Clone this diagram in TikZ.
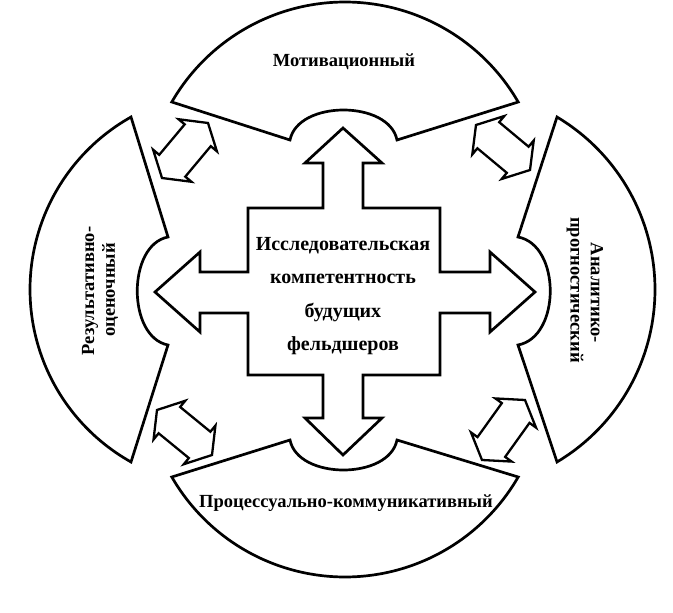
\documentclass[tikz,border=0pt]{standalone}
\usepackage{fontspec}
\setmainfont{Liberation Serif}
\usetikzlibrary{calc}
\newcommand{\dblarr}[2]{%
  \draw[smallarr] (#1)
    -- ($(#1)!16pt!(#2)!25pt!90:(#2)$)
    -- ($(#1)!16pt!(#2)!17pt!90:(#2)$)
    -- ($(#2)!16pt!(#1)!17pt!-90:(#1)$)
    -- ($(#2)!16pt!(#1)!25pt!-90:(#1)$)
    -- (#2)
    -- ($(#2)!16pt!(#1)!25pt!90:(#1)$)
    -- ($(#2)!16pt!(#1)!17pt!90:(#1)$)
    -- ($(#1)!16pt!(#2)!17pt!-90:(#2)$)
    -- ($(#1)!16pt!(#2)!25pt!-90:(#2)$)
    -- cycle;}
\begin{document}
\begin{tikzpicture}[x=1pt,y=-1pt,
  sect/.style={draw=black, line width=2.7pt, fill=white, line join=miter},
  crossshape/.style={draw=black, line width=2.7pt, fill=white, line join=miter},
  smallarr/.style={draw=black, line width=2.3pt, fill=white, line join=miter},
  lbl/.style={font=\bfseries\fontsize{18.5}{22}\selectfont, inner sep=0pt},
  ]
\useasboundingbox[fill=white] (0,0) rectangle (673,613);

% top sector
\draw[sect] plot[domain=210:330, samples=90] ({345+200*cos(\x)},{202+200*sin(\x)})
  -- (397,140) .. controls (389,100) and (298,100) .. (290,140) -- cycle;
% bottom sector
\draw[sect] plot[domain=30:150, samples=90] ({345+200*cos(\x)},{377+200*sin(\x)})
  -- (290,440) .. controls (298,480) and (389,480) .. (397,440) -- cycle;
% left sector
\draw[sect] plot[domain=119.3:240.7, samples=90] ({227.8+197.8*cos(\x)},{289.5+197.8*sin(\x)})
  -- (168,237) .. controls (127,245) and (127,337) .. (168,345) -- cycle;
% right sector
\draw[sect] plot[domain=-59.2:59.2, samples=90] ({454.2+200.8*cos(\x)},{289.5+200.8*sin(\x)})
  -- (518,345) .. controls (561,337) and (561,245) .. (518,237) -- cycle;

% central cross
\draw[crossshape] (343,128) -- (382,163) -- (363,163) -- (363,208) -- (440,208)
  -- (440,272) -- (490,272) -- (490,252) -- (535,292) -- (490,332) -- (490,313)
  -- (440,313) -- (440,375) -- (363,375) -- (363,418) -- (382,418) -- (343,455)
  -- (305,418) -- (323,418) -- (323,375) -- (248,375) -- (248,313) -- (200,313)
  -- (200,332) -- (155,292) -- (200,252) -- (200,272) -- (248,272) -- (248,208)
  -- (323,208) -- (323,163) -- (305,163) -- cycle;

% small double arrows
\coordinate (tlA) at (162,178); \coordinate (tlB) at (208,123);
\coordinate (trA) at (476,125); \coordinate (trB) at (530,170);
\coordinate (blA) at (157,410); \coordinate (blB) at (212,455);
\coordinate (brA) at (482,460); \coordinate (brB) at (525,400);
\dblarr{tlA}{tlB}
\dblarr{trA}{trB}
\dblarr{blA}{blB}
\dblarr{brA}{brB}

% labels
\node[lbl] (top) at (344,62) {Мотивационный};
\node[lbl] (bottom) at (346,503) {Процессуально-коммуникативный};
\node[lbl, rotate=90] (left1) at (90,291) {Результативно-};
\node[lbl, rotate=90] (left2) at (110,290) {оценочный};
\node[lbl, rotate=-90] (right1) at (597,293) {Аналитико-};
\node[lbl, rotate=-90] (right2) at (575,290) {прогностический};
\node[lbl, align=center, font=\bfseries\fontsize{20}{33.5}\selectfont] (center) at (343,296)
  {Исследовательская\\компетентность\\будущих\\фельдшеров};
\end{tikzpicture}
\end{document}
